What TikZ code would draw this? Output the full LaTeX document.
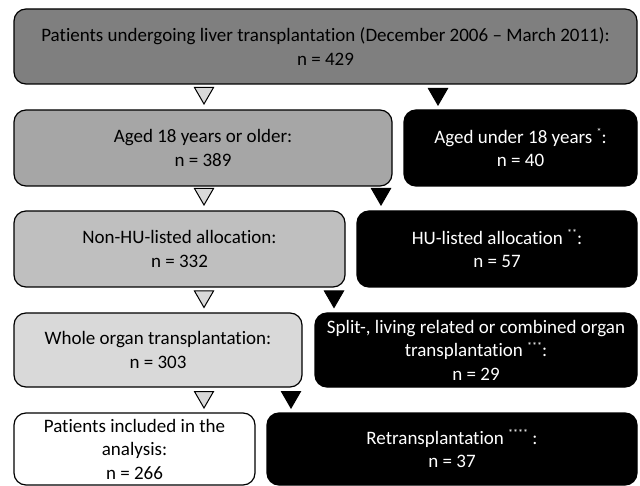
\documentclass[tikz,border=0pt]{standalone}
\usepackage{fontspec}
\setmainfont{Carlito}[Ligatures={TeX,NoCommon}]
\usetikzlibrary{shapes.geometric}
\definecolor{grA}{HTML}{7F7F7F}
\definecolor{grB}{HTML}{A6A6A6}
\definecolor{grC}{HTML}{BFBFBF}
\definecolor{grD}{HTML}{D9D9D9}

\begin{document}
\begin{tikzpicture}[
    x=1pt, y=-1pt,
    stage/.style={
      draw,
      line width=1.2pt,
      rounded corners=12pt,
      align=center,
      inner sep=0pt,
      font=\fontsize{19}{23.5}\selectfont
    },
    excl/.style={
      stage,
      fill=black,
      text=white
    },
    tri/.style={
      regular polygon,
      regular polygon sides=3,
      shape border rotate=180,
      minimum size=22pt,
      inner sep=0pt,
      draw,
      line width=1pt
    }]

    % Helper macro for the footnote marks.
    \def\fn#1{{\fontsize{10}{10}\selectfont\raisebox{7.5pt}{#1}}}

    \useasboundingbox (0,0) rectangle (640,486);

    % Draw the included patients.
    \node[stage,fill=grA,minimum width=623,minimum height=75] (all) at (325.5,46.5)
      {Patients undergoing liver transplantation (December 2006 -- March 2011):\\ n = 429};
    \node[stage,fill=grB,minimum width=378,minimum height=76] (adult) at (203,148)
      {Aged 18 years or older:\\ n = 389};
    \node[stage,fill=grC,minimum width=331,minimum height=76] (nonhu) at (179.5,249)
      {Non-HU-listed allocation:\\ n = 332};
    \node[stage,fill=grD,minimum width=288,minimum height=74] (whole) at (158,350)
      {Whole organ transplantation:\\ n = 303};
    \node[stage,fill=white,minimum width=241,minimum height=72] (incl) at (134.5,449)
      {Patients included in the\\ analysis:\\ n = 266};

    % Draw the excluded patients.
    \node[excl,minimum width=233,minimum height=76] (young) at (520.5,148)
      {Aged under 18 years \fn{*}:\\ n = 40};
    \node[excl,minimum width=280,minimum height=76] (hu) at (497,249)
      {HU-listed allocation \fn{**}:\\ n = 57};
    \node[excl,minimum width=322,minimum height=74] (split) at (476,350)
      {Split-, living related or combined organ\\ transplantation \fn{***}:\\ n = 29};
    \node[excl,minimum width=370,minimum height=72] (retx) at (452,449)
      {Retransplantation \fn{****} :\\ n = 37};

    % Draw the arrow heads between the rows.
    \node[tri,fill=grD] (ina) at (204,93) {};
    \node[tri,fill=grD] (inb) at (204,194) {};
    \node[tri,fill=grD] (inc) at (204,296.5) {};
    \node[tri,fill=grD] (ind) at (204,397) {};
    \node[tri,fill=black] (outa) at (438,94) {};
    \node[tri,fill=black] (outb) at (381,194) {};
    \node[tri,fill=black] (outc) at (334,296.5) {};
    \node[tri,fill=black] (outd) at (291,397) {};

  \end{tikzpicture}
\end{document}
